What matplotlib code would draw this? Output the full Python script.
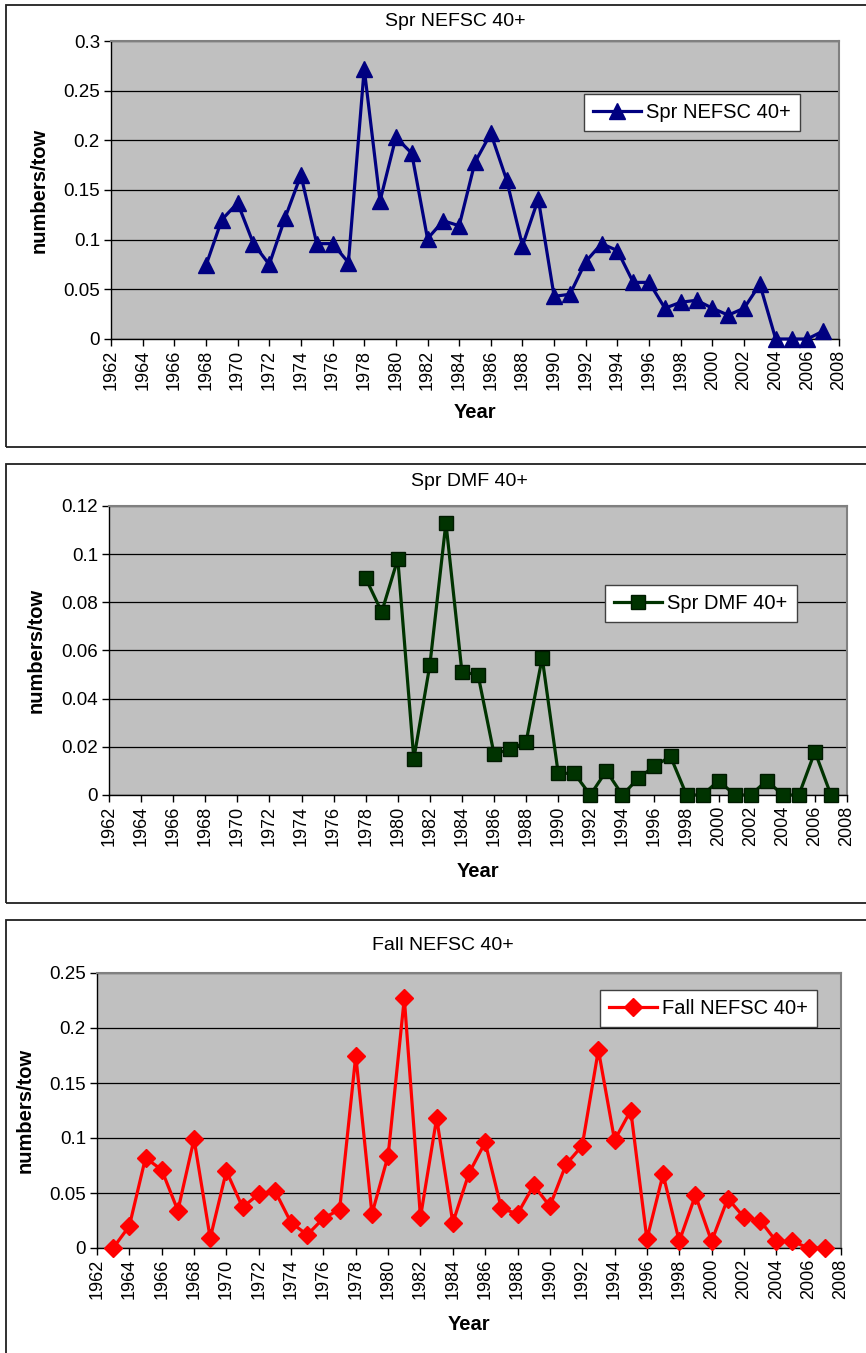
import matplotlib
matplotlib.use("Agg")
import matplotlib.pyplot as plt
from matplotlib.patches import Rectangle
from matplotlib.ticker import FuncFormatter, MultipleLocator

plt.rcParams["font.family"] = ["Liberation Sans", "DejaVu Sans"]

# --- data ---
spr_nefsc_years = list(range(1968, 2008))
spr_nefsc = [0.074, 0.120, 0.137, 0.096, 0.075, 0.122, 0.165, 0.096, 0.096, 0.077,
             0.272, 0.139, 0.203, 0.187, 0.101, 0.119, 0.114, 0.178, 0.207, 0.160,
             0.094, 0.141, 0.043, 0.045, 0.078, 0.096, 0.089, 0.057, 0.057, 0.031,
             0.037, 0.039, 0.031, 0.024, 0.031, 0.055, 0.0, 0.0, 0.0, 0.008]

spr_dmf_years = list(range(1978, 2008))
spr_dmf = [0.090, 0.076, 0.098, 0.015, 0.054, 0.113, 0.051, 0.050, 0.017, 0.019,
           0.022, 0.057, 0.009, 0.009, 0.0, 0.010, 0.0, 0.007, 0.012, 0.016,
           0.0, 0.0, 0.006, 0.0, 0.0, 0.006, 0.0, 0.0, 0.018, 0.0]

fall_nefsc_years = list(range(1963, 2008))
fall_nefsc = [0.0, 0.020, 0.082, 0.071, 0.034, 0.099, 0.009, 0.070, 0.037, 0.049,
              0.052, 0.023, 0.012, 0.027, 0.035, 0.175, 0.031, 0.084, 0.227, 0.028,
              0.118, 0.023, 0.068, 0.096, 0.036, 0.031, 0.057, 0.038, 0.076, 0.093,
              0.180, 0.098, 0.125, 0.008, 0.067, 0.006, 0.048, 0.006, 0.045, 0.028,
              0.025, 0.006, 0.006, 0.0, 0.0]

W, H = 866, 1353


def px_rect(left, top, right, bottom):
    return [left / W, 1 - bottom / H, (right - left) / W, (bottom - top) / H]


fig = plt.figure(figsize=(W / 100, H / 100), dpi=100)

panels = [
    dict(title="Spr NEFSC 40+", x=spr_nefsc_years, y=spr_nefsc, color="#000080",
         marker="^", ms=11, mec="#000080", ymax=0.3, step=0.05,
         ax=(111, 41, 839, 339), border=(6, 5, 880, 447), title_xy=(455, 22),
         leg_xy=(584, 94), ylab_x=39, xlab_y=413),
    dict(title="Spr DMF 40+", x=spr_dmf_years, y=spr_dmf, color="#003300",
         marker="s", ms=10.5, mec="#001a00", ymax=0.12, step=0.02,
         ax=(109, 506, 847, 795), border=(6, 464, 880, 903), title_xy=(469, 481),
         leg_xy=(605, 585), ylab_x=36, xlab_y=872),
    dict(title="Fall NEFSC 40+", x=fall_nefsc_years, y=fall_nefsc, color="#FF0000",
         marker="D", ms=9.5, mec="#FF0000", ymax=0.25, step=0.05,
         ax=(97, 973, 841, 1248), border=(6, 920, 880, 1370), title_xy=(443, 945),
         leg_xy=(600, 990), ylab_x=25, xlab_y=1325),
]

for p in panels:
    # frame round each chart
    bl, bt, br, bb = p["border"]
    fig.patches.append(Rectangle((bl / W, 1 - bb / H), (br - bl) / W, (bb - bt) / H,
                                 transform=fig.transFigure, fill=False,
                                 edgecolor="#202020", lw=1.3, clip_on=False))

    l, t, r, b = p["ax"]
    ax = fig.add_axes(px_rect(l, t, r, b))
    ax.set_facecolor("#C0C0C0")
    ax.plot(p["x"], p["y"], color=p["color"], lw=2.3, marker=p["marker"],
            ms=p["ms"], mfc=p["color"], mec=p["mec"], label=p["title"],
            clip_on=False, zorder=3)

    ax.set_xlim(1962, 2008)
    ax.set_ylim(0, p["ymax"])
    ax.xaxis.set_major_locator(MultipleLocator(2))
    ax.yaxis.set_major_locator(MultipleLocator(p["step"]))
    ax.yaxis.set_major_formatter(FuncFormatter(lambda v, pos: f"{round(v, 4):g}"))
    ax.tick_params(axis="x", labelrotation=90, labelsize=13, direction="out",
                   length=5, width=1, pad=3)
    ax.tick_params(axis="y", labelsize=13.5, direction="out", length=5, width=1, pad=3)
    ax.grid(axis="y", color="black", lw=0.9)
    ax.set_axisbelow(True)

    for side in ("top", "right"):
        ax.spines[side].set_color("#808080")
        ax.spines[side].set_linewidth(1.5)
    for side in ("left", "bottom"):
        ax.spines[side].set_color("black")
        ax.spines[side].set_linewidth(1)

    ax.set_ylabel("numbers/tow", fontsize=14.5, fontweight="bold")
    ax.yaxis.set_label_coords((p["ylab_x"] - l) / (r - l), 0.5)
    ax.set_xlabel("Year", fontsize=14.5, fontweight="bold")
    ax.xaxis.set_label_coords(0.5, -(p["xlab_y"] - b) / (b - t))
    ax.xaxis.label.set_va("center")
    ax.yaxis.label.set_va("center")

    fig.text(p["title_xy"][0] / W, 1 - p["title_xy"][1] / H, p["title"],
             fontsize=14, ha="center", va="center")

    lx, ly = p["leg_xy"]
    leg = ax.legend(loc="upper left", bbox_to_anchor=(lx / W, 1 - ly / H),
                    bbox_transform=fig.transFigure, fontsize=14.5, frameon=True,
                    fancybox=False, framealpha=1, edgecolor="#404040",
                    borderpad=0.45, borderaxespad=0, handlelength=2.4,
                    handletextpad=0.25)
    leg.get_frame().set_linewidth(1)

fig.savefig("out.png", dpi=100, facecolor="white")
